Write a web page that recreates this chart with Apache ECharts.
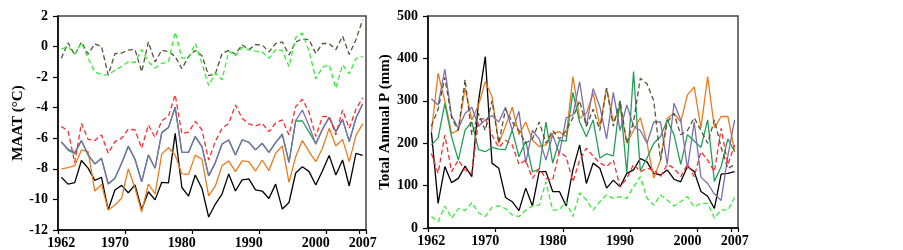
<!DOCTYPE html>
<html><head><meta charset="utf-8">
<script src="https://cdn.jsdelivr.net/npm/echarts@6/dist/echarts.min.js"></script>
<style>html,body{margin:0;padding:0;background:#fff}#c{width:903px;height:250px}</style>
</head><body><div id="c"></div>
<script>
const years = ['1962','1963','1964','1965','1966','1967','1968','1969','1970','1971','1972','1973','1974','1975','1976','1977','1978','1979','1980','1981','1982','1983','1984','1985','1986','1987','1988','1989','1990','1991','1992','1993','1994','1995','1996','1997','1998','1999','2000','2001','2002','2003','2004','2005','2006','2007'];
const xTickLabels = ['1962','1970','1980','1990','2000','2007'];
const maatTicks = [-12,-10,-8,-6,-4,-2,0,2];
const precipTicks = [0,100,200,300,400,500];

// Left panel: MAAT (°C)
const maatBlack = [-8.55,-9.0,-8.9,-7.45,-7.95,-8.75,-8.55,-10.68,-9.38,-9.08,-9.56,-9.05,-10.65,-9.5,-10.03,-8.88,-8.92,-5.68,-9.22,-9.78,-8.4,-9.28,-11.15,-10.3,-9.65,-8.33,-9.45,-8.72,-8.66,-9.37,-9.45,-9.94,-9.0,-10.63,-10.2,-8.27,-7.86,-8.18,-9.06,-8.12,-7.12,-8.4,-7.42,-9.12,-6.99,-7.12];
const maatOrange = [-8.0,-7.92,-7.79,-6.76,-6.87,-9.45,-9.02,-10.69,-10.36,-9.92,-8.0,-9.25,-10.82,-8.99,-9.64,-7.02,-6.62,-7.1,-8.33,-8.36,-7.1,-7.37,-9.77,-9.12,-7.79,-7.48,-8.18,-7.48,-7.53,-8.14,-7.42,-8.12,-6.98,-6.5,-8.88,-7.2,-6.15,-6.87,-7.53,-6.65,-5.35,-6.5,-6.07,-7.53,-5.83,-5.06];
const maatGreen = [-6.22,-6.78,-7.0,-6.15,-7.09,-7.68,-7.31,-8.99,-8.62,-7.64,-6.5,-7.37,-8.84,-7.09,-7.96,-5.63,-5.3,-3.97,-6.92,-6.92,-5.89,-6.55,-8.46,-7.59,-6.37,-6.11,-7.09,-6.11,-6.26,-6.76,-6.33,-6.92,-6.28,-5.72,-7.57,-4.87,-4.87,-5.6,-6.33,-5.41,-4.63,-5.57,-4.76,-6.22,-4.69,-3.76];
const maatPurple = [-6.26,-6.7,-6.94,-6.15,-7.09,-7.68,-7.31,-8.99,-8.62,-7.64,-6.55,-7.37,-8.84,-7.09,-7.96,-5.63,-5.3,-3.97,-6.92,-6.92,-5.89,-6.55,-8.46,-7.59,-6.37,-6.11,-7.09,-6.11,-6.26,-6.76,-6.33,-6.92,-6.28,-5.78,-7.57,-4.85,-4.15,-5.19,-6.39,-5.41,-4.63,-5.57,-4.76,-6.22,-4.69,-3.76];
const maatRed = [-5.24,-5.5,-7.6,-5.02,-6.07,-6.15,-5.78,-6.98,-6.22,-6.0,-5.41,-5.45,-6.65,-5.13,-5.94,-4.85,-4.55,-3.15,-5.7,-5.6,-4.9,-5.45,-7.42,-6.2,-5.35,-5.02,-3.82,-4.69,-5.06,-5.19,-5.02,-5.57,-5.0,-4.8,-5.78,-3.93,-3.45,-4.3,-5.89,-4.58,-4.58,-5.78,-4.15,-5.35,-4.1,-3.35];
const maatOlive = [-0.77,0.25,-0.55,0.3,-0.5,0.18,0.0,-1.85,-0.47,-0.42,-0.23,-0.19,-1.65,0.3,-1.0,-0.24,-0.32,-0.65,-1.45,-0.65,-0.25,-0.6,-1.9,-1.78,-0.45,-0.25,-0.5,0.12,-0.2,0.12,0.1,-0.35,0.2,0.3,-0.55,0.3,0.5,0.45,-0.45,0.2,0.2,-0.2,0.68,-0.52,0.45,1.75];
const maatLime = [-0.17,0.0,-0.5,0.25,-0.77,-1.65,-1.85,-1.85,-1.55,-1.3,-1.0,-1.05,-0.2,-1.0,-1.4,-1.1,-1.0,0.95,-0.75,-0.75,0.2,-1.1,-2.55,-1.75,-2.17,-0.3,-0.6,-0.05,-0.2,-0.3,-0.35,-0.77,-0.2,-0.25,-1.31,0.6,0.87,-0.3,-2.12,-1.35,-1.2,-2.72,-1.2,-1.78,-0.78,-0.66];

// Right panel: Total Annual P (mm)
const pBlack = [227,58,145,107,117,146,121,300,404,153,141,72,62,41,94,52,133,133,86,86,52,137,196,105,153,141,94,113,97,129,137,164,156,129,125,137,115,109,145,133,86,75,46,127,129,133];
const pOrange = [225,365,300,223,231,330,255,290,345,310,200,240,285,220,250,207,192,196,223,227,215,357,259,270,318,240,330,250,286,200,230,260,200,117,160,259,270,250,314,333,236,357,236,263,263,180];
const pGreen = [196,212,294,215,160,231,250,185,180,190,186,185,231,168,205,133,138,250,153,207,205,320,250,215,255,165,175,170,300,130,369,135,165,200,215,255,220,150,220,205,190,255,110,145,210,180];
const pPurple = [305,290,375,265,235,270,285,240,255,265,250,285,230,275,153,230,210,160,220,175,260,266,345,240,329,286,210,320,230,290,240,230,200,250,250,150,294,255,140,250,120,105,80,65,170,255];
const pRed = [176,129,219,133,160,137,129,255,259,219,190,207,196,150,160,117,140,117,113,180,168,109,160,188,170,153,145,160,97,117,150,133,141,137,121,150,141,121,150,121,180,160,133,235,150,196];
const pOlive = [240,280,355,260,230,350,220,270,230,300,200,280,250,230,200,210,250,200,230,210,230,260,300,240,280,230,330,240,300,200,250,353,340,300,160,250,270,220,230,260,230,200,255,190,140,150];
const pLime = [27,15,52,23,46,41,60,36,27,49,52,46,31,27,42,52,54,109,42,43,62,27,83,66,42,62,78,70,74,70,97,121,70,54,78,66,52,62,74,50,58,58,23,43,42,72];

const FONT = '"Liberation Serif","Times New Roman",serif';
const labelStyle = {fontFamily: FONT, fontWeight: 'bold', fontSize: 14, color: '#000'};

function xAxisFor(gridIndex) {
  return {
    type: 'category', gridIndex, data: years, boundaryGap: true,
    axisLine: {onZero: false, lineStyle: {color: '#000', width: 1.5}},
    axisTick: {show: true, interval: 9, length: 4, lineStyle: {color: '#000', width: 1.2}},
    axisLabel: Object.assign({}, labelStyle, {
      interval: (idx, val) => xTickLabels.indexOf(val) >= 0,
      margin: 6, showMinLabel: true, showMaxLabel: true
    }),
    splitLine: {show: false}
  };
}
function yAxisFor(gridIndex, ticks, name, gap) {
  return {
    type: 'value', gridIndex, min: ticks[0], max: ticks[ticks.length - 1],
    interval: ticks[1] - ticks[0],
    name, nameLocation: 'middle', nameGap: gap, nameRotate: 90,
    nameTextStyle: {fontFamily: FONT, fontWeight: 'bold', fontSize: 15, color: '#000'},
    axisLine: {show: true, onZero: false, lineStyle: {color: '#000', width: 1.5}},
    axisTick: {show: true, length: 5, lineStyle: {color: '#000', width: 1.2}},
    axisLabel: Object.assign({}, labelStyle, {margin: 10}),
    splitLine: {show: false}
  };
}
function line(xi, data, color, dashed, width) {
  return {
    type: 'line', xAxisIndex: xi, yAxisIndex: xi, data, symbol: 'none', smooth: false,
    lineStyle: {color, width: width || 1.3, type: dashed ? [5, 3] : 'solid'},
    silent: true, animation: false
  };
}

const chart = echarts.init(document.getElementById('c'), null, {renderer: 'canvas'});
chart.setOption({
  animation: false,
  grid: [
    {left: 58, top: 16, width: 308, height: 214, show: true, borderColor: '#444', borderWidth: 1.5, backgroundColor: 'transparent'},
    {left: 428, top: 16, width: 310, height: 212, show: true, borderColor: '#444', borderWidth: 1.5, backgroundColor: 'transparent'}
  ],
  xAxis: [xAxisFor(0), xAxisFor(1)],
  yAxis: [yAxisFor(0, maatTicks, 'MAAT (°C)', 30), yAxisFor(1, precipTicks, 'Total Annual P (mm)', 31)],
  series: [
    line(0, maatBlack, '#000000'),
    line(0, maatOrange, '#ee7a1c'),
    line(0, maatGreen, '#1fa055'),
    line(0, maatPurple, '#7d6eb0'),
    line(0, maatRed, '#ff2a2a', true),
    line(0, maatOlive, '#55543a', true),
    line(0, maatLime, '#33ee33', true),
    line(1, pBlack, '#000000'),
    line(1, pOrange, '#ee7a1c'),
    line(1, pGreen, '#1fa055'),
    line(1, pPurple, '#7d6eb0'),
    line(1, pRed, '#ff2a2a', true),
    line(1, pOlive, '#55543a', true),
    line(1, pLime, '#33ee33', true)
  ]
});
</script></body></html>
